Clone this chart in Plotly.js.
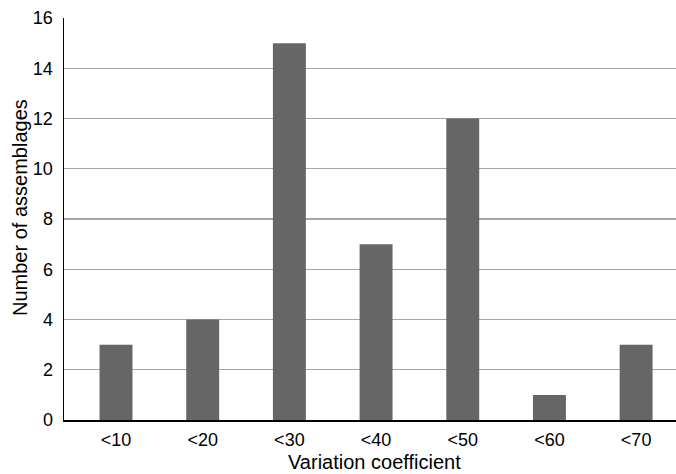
<!DOCTYPE html>
<html><head><meta charset="utf-8">
<script src="https://cdn.plot.ly/plotly-3.0.1.min.js"></script>
<style>html,body{margin:0;padding:0;background:#fff}#chart{width:676px;height:474px}</style>
</head><body><div id="chart"></div>
<script>
const categories = ['<10','<20','<30','<40','<50','<60','<70'];
const counts = [3,4,15,7,12,1,3];
const yTicks = [0,2,4,6,8,10,12,14,16];
const xTitle = 'Variation coefficient';
const yTitle = 'Number of assemblages';

const trace = {
  type:'bar', x:categories, y:counts, width:0.38,
  marker:{color:'#666666'}, hoverinfo:'none'
};
const layout = {
  width:676, height:474,
  margin:{l:64, r:0, t:18, b:54},
  paper_bgcolor:'#fff', plot_bgcolor:'#fff',
  font:{family:'Liberation Sans, Arial, sans-serif', color:'#000', size:18},
  showlegend:false,
  xaxis:{
    type:'category', range:[-0.6, 6.46], showgrid:false,
    showline:true, linecolor:'#000', linewidth:1.5, ticks:'',
    tickfont:{size:18}, ticklabelstandoff:3
  },
  yaxis:{
    range:[0,16], tickvals:yTicks, showgrid:true, gridcolor:'#a6a6a6', gridwidth:1.2,
    showline:true, linecolor:'#000', linewidth:1.5, ticks:'', zeroline:false,
    tickfont:{size:18}, ticklabelstandoff:6
  },
  annotations:[
    {text:xTitle, xref:'paper', yref:'paper', x:(374-64)/612, y:-(462-420)/402,
     xanchor:'center', yanchor:'middle', showarrow:false, font:{size:20}},
    {text:yTitle, xref:'paper', yref:'paper', x:-(64-20)/612, y:(420-208)/402,
     xanchor:'center', yanchor:'middle', textangle:-90, showarrow:false, font:{size:20}}
  ]
};
Plotly.newPlot('chart',[trace],layout,{staticPlot:true});
</script></body></html>
